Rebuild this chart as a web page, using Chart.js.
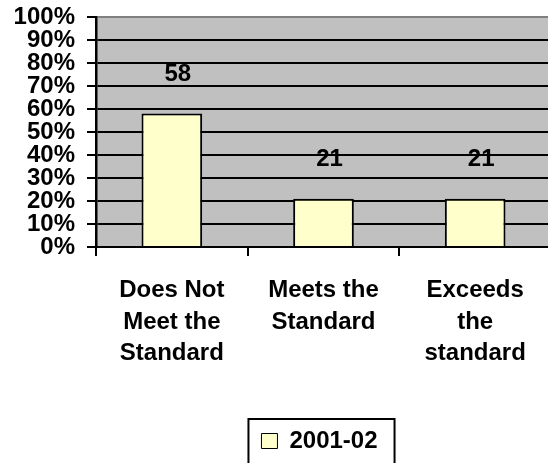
<!DOCTYPE html>
<html>
<head>
<meta charset="utf-8">
<script src="https://cdn.jsdelivr.net/npm/chart.js@4/dist/chart.umd.min.js"></script>
<style>
html,body{margin:0;padding:0;background:#fff;overflow:hidden;}
#wrap{position:relative;width:560px;height:463px;}
</style>
</head>
<body>
<div id="wrap"><canvas id="c" width="560" height="463"></canvas></div>
<script>
const categories = [["Does Not","Meet the","Standard"],["Meets the","Standard"],["Exceeds","the","standard"]];
const seriesName = "2001-02";
const values = [58, 21, 21];
const yTicks = [0,10,20,30,40,50,60,70,80,90,100];

const FONT = "'Liberation Sans', Arial, sans-serif";

const plotBg = {
  id: 'plotBg',
  beforeDraw(chart) {
    const {ctx, chartArea: a} = chart;
    ctx.save();
    ctx.fillStyle = '#c0c0c0';
    ctx.fillRect(a.left, a.top, a.right - a.left, a.bottom - a.top);
    ctx.restore();
  }
};

const valueLabels = {
  id: 'valueLabels',
  afterDatasetsDraw(chart) {
    const {ctx} = chart;
    const meta = chart.getDatasetMeta(0);
    ctx.save();
    ctx.font = "bold 24px " + FONT;
    ctx.fillStyle = '#000';
    ctx.textAlign = 'center';
    ctx.textBaseline = 'middle';
    meta.data.forEach((bar, i) => {
      ctx.fillText(String(values[i]), bar.x + 6, bar.y - 39);
    });
    ctx.restore();
  }
};

const LEG_SHIFT = 4;
const legendShift = {
  id: 'legendShift',
  afterLayout(chart) {
    const lg = chart.legend;
    if (lg) { lg.left -= LEG_SHIFT; lg.right -= LEG_SHIFT; }
  }
};

const legendBox = {
  id: 'legendBox',
  afterDraw(chart) {
    const lg = chart.legend;
    if (!lg || !lg.legendHitBoxes || !lg.legendHitBoxes.length) return;
    const hb = lg.legendHitBoxes[0];
    const {ctx} = chart;
    ctx.save();
    ctx.strokeStyle = '#000';
    ctx.lineWidth = 2;
    const left = hb.left - 13;
    const right = hb.left + hb.width + 17;
    ctx.strokeRect(left, lg.top, right - left, 80);
    ctx.restore();
  }
};

new Chart(document.getElementById('c'), {
  type: 'bar',
  data: {
    labels: categories,
    datasets: [{
      label: seriesName,
      data: values,
      backgroundColor: '#ffffcc',
      borderColor: '#000',
      borderWidth: 2,
      barPercentage: 0.4,
      categoryPercentage: 1.0
    }]
  },
  options: {
    responsive: false,
    animation: false,
    events: [],
    layout: { padding: { top: 17, right: 9, left: 0, bottom: 0 } },
    plugins: {
      tooltip: { enabled: false },
      legend: {
        position: 'bottom',
        fullSize: false,
        labels: {
          color: '#000',
          font: { family: FONT, size: 24, weight: 'bold' },
          boxWidth: 16,
          boxHeight: 15,
          padding: 10,
          generateLabels(chart) {
            const items = Chart.defaults.plugins.legend.labels.generateLabels(chart);
            items.forEach(it => { it.lineWidth = 1; });
            return items;
          }
        }
      }
    },
    scales: {
      x: {
        offset: true,
        grid: { offset: true, drawOnChartArea: false, drawTicks: true, tickLength: 9, color: '#000', lineWidth: 2 },
        border: { color: '#000', width: 2 },
        ticks: {
          color: '#000',
          font: { family: FONT, size: 24, weight: 'bold', lineHeight: 1.33 },
          padding: 18,
          maxRotation: 0,
          autoSkip: false
        },
        afterFit(s) { s.height = 172; s.paddingLeft = 0; s.paddingRight = 0; }
      },
      y: {
        min: 0,
        max: 100,
        afterBuildTicks(s) { s.ticks = yTicks.map(v => ({value: v})); },
        ticks: {
          color: '#000',
          font: { family: FONT, size: 24, weight: 'bold', lineHeight: 1.0 },
          padding: 12,
          autoSkip: false,
          callback: v => v + '%'
        },
        grid: {
          color: ctx => (ctx.tick && ctx.tick.value === 100) ? '#808080' : '#000',
          tickColor: '#000',
          lineWidth: 2,
          tickLength: 9
        },
        border: { color: '#000', width: 2.5 },
        afterFit(s) { s.width = 96; s.paddingTop = 0; s.paddingBottom = 0; }
      }
    }
  },
  plugins: [plotBg, legendShift, valueLabels, legendBox]
});
</script>
</body>
</html>
